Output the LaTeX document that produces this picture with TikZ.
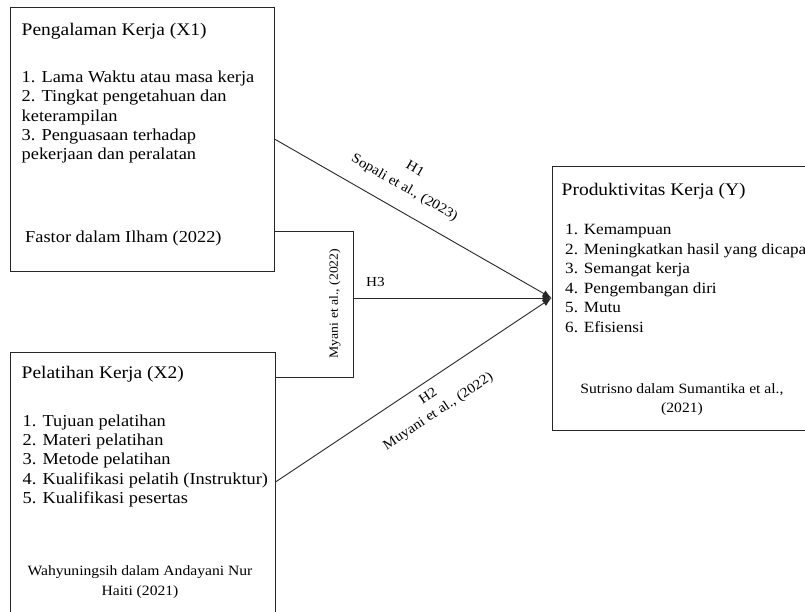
\documentclass[tikz,border=0pt]{standalone}
\usepackage{fontspec}
\setmainfont{Liberation Serif}[FakeStretch=1.1]
\usetikzlibrary{arrows.meta}
\begin{document}
\begin{tikzpicture}[x=1pt,y=-1pt,
  box/.style={draw=black!85, line width=0.9pt, inner sep=0pt},
  ttl/.style={anchor=base west, inner sep=0pt, font=\fontsize{17.7}{20}\selectfont},
  txt/.style={anchor=base west, inner sep=0pt, font=\fontsize{16.7}{19.3}\selectfont},
  ytxt/.style={anchor=base west, inner sep=0pt, font=\fontsize{15.6}{19.3}\selectfont},
  cite/.style={anchor=base, inner sep=0pt, font=\fontsize{14.2}{18}\selectfont},
  lbl/.style={inner sep=0pt, align=center},
  conn/.style={draw=black!85, line width=0.9pt},
  arr/.style={conn, -{Latex[length=9pt,width=7pt]}}]
\useasboundingbox (0,0) rectangle (805,612);
\clip (0,0) rectangle (805,612);

% boxes
\node[box, minimum width=264pt, minimum height=264pt] (x1) at (142,139) {};
\node[box, minimum width=265pt, minimum height=298pt] (x2) at (142.5,501) {};
\node[box, minimum width=298pt, minimum height=264pt] (y) at (701,298) {};

% X1 text
\node[ttl] (x1t) at (21.5,36) {Pengalaman Kerja (X1)};
\node[txt] (x1a) at (21.5,83) {1. Lama Waktu atau masa kerja};
\node[txt] (x1b) at (21.5,102) {2. Tingkat pengetahuan dan};
\node[txt] (x1c) at (21.5,121.5) {keterampilan};
\node[txt] (x1d) at (21.5,140.5) {3. Penguasaan terhadap};
\node[txt] (x1e) at (21.5,159.5) {pekerjaan dan peralatan};
\node[txt] (x1s) at (25,243) {Fastor dalam Ilham (2022)};

% X2 text
\node[ttl] (x2t) at (21.5,378) {Pelatihan Kerja (X2)};
\node[txt] (x2a) at (22.5,426) {1. Tujuan pelatihan};
\node[txt] (x2b) at (22.5,445) {2. Materi pelatihan};
\node[txt] (x2c) at (22.5,464.5) {3. Metode pelatihan};
\node[txt] (x2d) at (22.5,484) {4. Kualifikasi pelatih (Instruktur)};
\node[txt] (x2e) at (22.5,503) {5. Kualifikasi pesertas};
\node[cite] (x2s) at (140,575) {Wahyuningsih dalam Andayani Nur};
\node[cite] (x2s2) at (140,595) {Haiti (2021)};

% Y text
\node[ttl] (yt) at (561.5,196) {Produktivitas Kerja (Y)};
\node[ytxt] (ya) at (565,235) {1. Kemampuan};
\node[ytxt] (yb) at (565,254.5) {2. Meningkatkan hasil yang dicapai};
\node[ytxt] (yc) at (565,273.5) {3. Semangat kerja};
\node[ytxt] (yd) at (565,293) {4. Pengembangan diri};
\node[ytxt] (ye) at (565,312.5) {5. Mutu};
\node[ytxt] (yf) at (565,332) {6. Efisiensi};
\node[cite] (ys) at (682,393) {Sutrisno dalam Sumantika et al.,};
\node[cite] (ys2) at (682,412) {(2021)};

% moderating bracket box
\coordinate (mtl) at (x1.east |- 0,231);
\coordinate (mtr) at (353,231);
\coordinate (mbr) at (353,377);
\coordinate (mbl) at (x2.east |- 0,377);
\draw[conn] (mtl) -- (mtr) -- (mbr) -- (mbl);
\node[lbl, rotate=90, font=\fontsize{12.5}{14}\selectfont] (mv) at (335,303.5) {Myani et al., (2022)};
\coordinate (mout) at (353,298);

% connectors
\coordinate (h1s) at (x1.east |- 0,139);
\coordinate (h2s) at (x2.east |- 0,482);
\draw[arr] (h1s) -- (y.west);
\draw[arr] (h2s) -- (y.west);
\draw[arr] (mout) -- (y.west);

% labels
\node[lbl, rotate=-29.8, font=\fontsize{13.8}{21}\selectfont] (h1) at (409.5,179) {H1\\Sopali et al., (2023)};
\node[lbl, rotate=33.6, font=\fontsize{13.8}{18}\selectfont] (h2) at (433.5,404.5) {H2\\Muyani et al., (2022)};
\node[lbl, font=\fontsize{13.8}{16}\selectfont] (h3) at (375.5,282) {H3};
\end{tikzpicture}
\end{document}
